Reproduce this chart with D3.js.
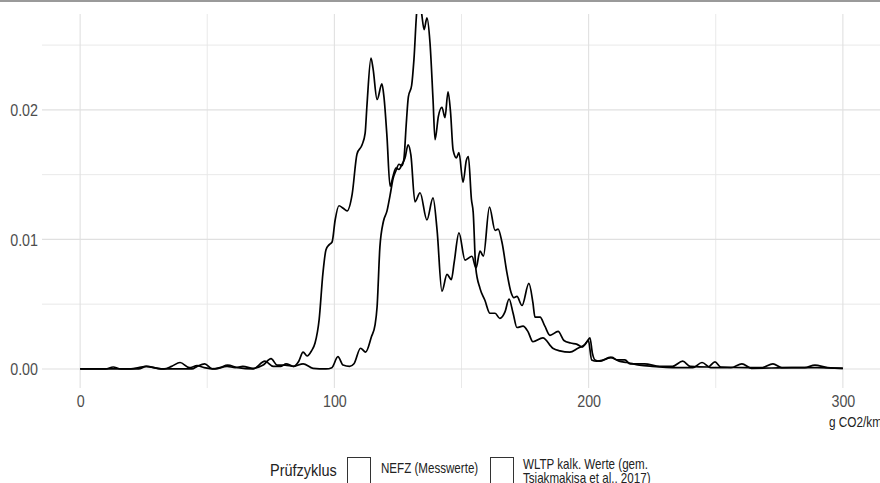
<!DOCTYPE html>
<html>
<head>
<meta charset="utf-8">
<script src="https://cdn.jsdelivr.net/npm/d3@7"></script>
<style>
  body { margin: 0; background: white; }
  text { font-family: "Liberation Sans", Arial, sans-serif; }
</style>
</head>
<body>
<div id="chart"></div>
<script>
// density values (x = g CO2/km, y = density)
var nefzX = [0, 10, 13, 16, 23, 26, 32, 44, 46, 49, 52, 55, 58, 62, 68, 72.7, 76, 79, 81, 84, 86, 87.7, 89.3, 91, 92.4, 94, 95.5, 96.7, 98, 99.1, 100.3, 101.8, 103.5, 105, 107, 108.9, 110.9, 112.1, 112.8, 114.4, 115.2, 116.8, 118.7, 119.5, 120.7, 121.9, 123.1, 124.2, 125.4, 126.6, 127.8, 129, 130.1, 131.7, 133.7, 136.4, 138.8, 140.4, 142.3, 144.3, 146, 147.1, 149, 151.4, 154.1, 155.7, 157.3, 158.6, 161, 163.2, 164.4, 165.9, 167.9, 169.5, 170.6, 171.8, 173.8, 176.5, 178.1, 178.9, 180.9, 182.8, 184.8, 188, 190.3, 192.9, 195.5, 197.4, 199.3, 200.5, 201.5, 202.5, 204.5, 207.2, 209.2, 211.1, 214.3, 216.3, 222, 228, 233, 237, 240, 247, 249.7, 252, 262, 268, 272.5, 276, 290, 300];
var nefzY = [0, 0, 0.00015, 0, 0, 0.0002, 0, 0, 0.0002, 0.0004, 0, 0.0001, 0.0003, 0.0001, 0, 0.0006, 0.0002, 0.0002, 0.0004, 0.0002, 0.0006, 0.0013, 0.001, 0.0014, 0.002, 0.0038, 0.0074, 0.0092, 0.0096, 0.0098, 0.0115, 0.0126, 0.0124, 0.0122, 0.0135, 0.0166, 0.0173, 0.0182, 0.0203, 0.024, 0.0232, 0.0208, 0.022, 0.021, 0.0179, 0.0141, 0.0149, 0.0155, 0.0154, 0.0158, 0.0163, 0.0173, 0.0165, 0.0129, 0.0136, 0.0115, 0.0132, 0.0107, 0.006, 0.0073, 0.0069, 0.0082, 0.0105, 0.0084, 0.0087, 0.0078, 0.0091, 0.0087, 0.0125, 0.0107, 0.0108, 0.0098, 0.0074, 0.0059, 0.0055, 0.0056, 0.0049, 0.0066, 0.0051, 0.004, 0.004, 0.0033, 0.0026, 0.0029, 0.0022, 0.002, 0.0019, 0.0017, 0.0021, 0.0024, 0.0012, 0.0007, 0.0006, 0.0008, 0.0009, 0.0007, 0.0007, 0.0004, 0.0004, 0.0002, 0.0002, 0.0006, 0.0002, 0.00015, 0.00055, 0.00015, 0.0001, 0.0001, 0.0004, 0.0001, 0.0001, 0.00005];

var wltpX = [0, 20, 23, 26, 29, 33, 36, 39.3, 43, 46, 48.8, 53, 57.8, 61, 64, 68, 72, 75.1, 77.5, 80.6, 84, 87.7, 91.6, 96.7, 99, 101.4, 103.4, 106, 107.7, 110.3, 112.3, 114.6, 116, 116.8, 117.9, 119.3, 120.7, 121.9, 123.1, 124.2, 125.4, 126.6, 127.4, 128.2, 129.1, 130.4, 131.3, 132.5, 133.3, 134.2, 135.3, 136.4, 137.6, 138.8, 139.6, 140.9, 142.3, 143.5, 144.7, 145.7, 146.7, 148, 149, 150.6, 151.9, 152.7, 153.9, 154.6, 155.6, 157.3, 159.2, 161.2, 163.2, 165.1, 167.1, 168.7, 170.3, 171.8, 174.2, 176.1, 178.1, 182, 185.9, 188.7, 192.6, 195.8, 198.6, 199.9, 201.2, 203.2, 205.8, 208.5, 212, 215, 220, 225, 235, 241, 244.6, 248, 256, 260.3, 264, 280, 285, 289, 294, 300];
var wltpY = [0, 0, 0.0001, 0.0002, 0.0001, 0, 0.0002, 0.0005, 0.0001, 0.00025, 0.0001, 0, 0.0002, 0.0001, 0.0002, 0.00005, 0.0003, 0.0008, 0.0003, 0.0003, 0.0002, 0.0004, 0.00005, 0, 0.0001, 0.00095, 0.0003, 0.0002, 0.0004, 0.0016, 0.0013, 0.0025, 0.0034, 0.0048, 0.0094, 0.0114, 0.0122, 0.0134, 0.0147, 0.0153, 0.0158, 0.0157, 0.0163, 0.0187, 0.021, 0.0219, 0.0239, 0.0278, 0.0284, 0.0276, 0.0262, 0.0271, 0.0252, 0.0208, 0.0177, 0.0195, 0.0202, 0.0194, 0.0214, 0.0198, 0.0169, 0.0163, 0.0167, 0.0144, 0.0161, 0.0164, 0.0131, 0.0121, 0.0078, 0.0062, 0.0053, 0.0043, 0.0043, 0.0039, 0.0044, 0.0054, 0.0043, 0.0032, 0.0033, 0.0029, 0.0021, 0.0024, 0.0016, 0.0014, 0.0013, 0.0016, 0.0019, 0.0022, 0.0007, 0.0006, 0.0007, 0.0009, 0.0006, 0.0005, 0.0003, 0.0002, 0.0001, 0.0001, 0.0005, 0.0001, 0.0001, 0.0004, 0.00005, 0.0001, 0.0001, 0.0003, 0.0001, 0.00005];

var xTicks = [0, 100, 200, 300];
var xMinor = [50, 150, 250];
var yTicks = [0, 0.01, 0.02];
var yMinor = [0.005, 0.015, 0.025];

var seriesNames = ["NEFZ (Messwerte)", ["WLTP kalk. Werte (gem.", "Tsiakmakisa et al., 2017)"]];
var legendTitle = "Prüfzyklus";
var xTitle = "g CO2/km";

var width = 880, height = 483;
var panel = { left: 42, right: 881, top: 14, bottom: 388 };
var stretch = "scale(1,1.2)"; // text in the reference is a bit taller than wide

var svg = d3.select("#chart")
    .append("svg")
    .attr("width", width)
    .attr("height", height);

svg.append("rect")
    .attr("width", width)
    .attr("height", height)
    .attr("fill", "white");

// grey strip along the top edge
svg.append("rect")
    .attr("x", 0).attr("y", 0)
    .attr("width", width).attr("height", 2)
    .attr("fill", "#9a9a9a");

var x = d3.scaleLinear()
    .domain([-15, 315])
    .range([panel.left, panel.right]);

var y = d3.scaleLinear()
    .domain([-0.00147, 0.0274])
    .range([panel.bottom, panel.top]);

// minor gridlines
svg.append("g").selectAll("line")
    .data(xMinor).enter().append("line")
    .attr("x1", d => x(d)).attr("x2", d => x(d))
    .attr("y1", panel.top).attr("y2", panel.bottom)
    .attr("stroke", "#e6e6e6").attr("stroke-width", 0.9);

svg.append("g").selectAll("line")
    .data(yMinor).enter().append("line")
    .attr("x1", panel.left).attr("x2", panel.right)
    .attr("y1", d => y(d)).attr("y2", d => y(d))
    .attr("stroke", "#e6e6e6").attr("stroke-width", 0.9);

// major gridlines
svg.append("g").selectAll("line")
    .data(xTicks).enter().append("line")
    .attr("x1", d => x(d)).attr("x2", d => x(d))
    .attr("y1", panel.top).attr("y2", panel.bottom)
    .attr("stroke", "#e0e0e0").attr("stroke-width", 1.1);

svg.append("g").selectAll("line")
    .data(yTicks).enter().append("line")
    .attr("x1", panel.left).attr("x2", panel.right)
    .attr("y1", d => y(d)).attr("y2", d => y(d))
    .attr("stroke", "#e0e0e0").attr("stroke-width", 1.1);

// axes (labels only)
var xAxis = svg.append("g")
    .attr("transform", "translate(0," + panel.bottom + ")")
    .call(d3.axisBottom(x).tickValues(xTicks).tickSize(0).tickFormat(d3.format("d")));
var yAxis = svg.append("g")
    .attr("transform", "translate(" + (panel.left - 4) + ",0)")
    .call(d3.axisLeft(y).tickValues(yTicks).tickSize(0).tickFormat(d3.format(".2f")));

[xAxis, yAxis].forEach(function(g) {
    g.select(".domain").remove();
    g.selectAll("text")
        .attr("fill", "#4d4d4d")
        .attr("x", 0).attr("y", 0).attr("dy", 0)
        .style("font-size", "14.3px");
});
xAxis.selectAll("text").attr("transform", "translate(0,19) " + stretch);
yAxis.selectAll("text").attr("transform", "translate(0,6) " + stretch);

svg.append("text")
    .attr("transform", "translate(829,427) " + stretch)
    .attr("fill", "#222")
    .style("font-size", "11.8px")
    .text(xTitle);

// density lines, clipped to the panel
svg.append("clipPath").attr("id", "clip")
    .append("rect")
    .attr("x", panel.left).attr("y", panel.top)
    .attr("width", panel.right - panel.left).attr("height", panel.bottom - panel.top);

var line = d3.line()
    .x(d => x(d[0]))
    .y(d => y(d[1]))
    .curve(d3.curveMonotoneX);

var series = [d3.zip(nefzX, nefzY), d3.zip(wltpX, wltpY)];

svg.append("g")
    .attr("clip-path", "url(#clip)")
    .selectAll("path")
    .data(series).enter().append("path")
    .attr("d", line)
    .attr("fill", "none")
    .attr("stroke", "black")
    .attr("stroke-width", 1.7)
    .attr("stroke-linejoin", "round");

// legend
var legend = svg.append("g");
legend.append("text")
    .attr("transform", "translate(270,476) " + stretch)
    .attr("fill", "#222")
    .style("font-size", "14.5px")
    .text(legendTitle);

var keyX = [347, 490];
legend.selectAll("rect.key")
    .data(keyX).enter().append("rect")
    .attr("class", "key")
    .attr("x", d => d + 0.5).attr("y", 457.5)
    .attr("width", 23).attr("height", 28)
    .attr("fill", "white")
    .attr("stroke", "#333").attr("stroke-width", 1);

legend.append("text")
    .attr("transform", "translate(381,473) " + stretch)
    .attr("fill", "#222")
    .style("font-size", "11.6px")
    .text(seriesNames[0]);

legend.selectAll("text.wltp")
    .data(seriesNames[1]).enter().append("text")
    .attr("class", "wltp")
    .attr("transform", (d, i) => "translate(523," + (469 + i * 13.5) + ") " + stretch)
    .attr("fill", "#222")
    .style("font-size", "11.6px")
    .text(d => d);
</script>
</body>
</html>
